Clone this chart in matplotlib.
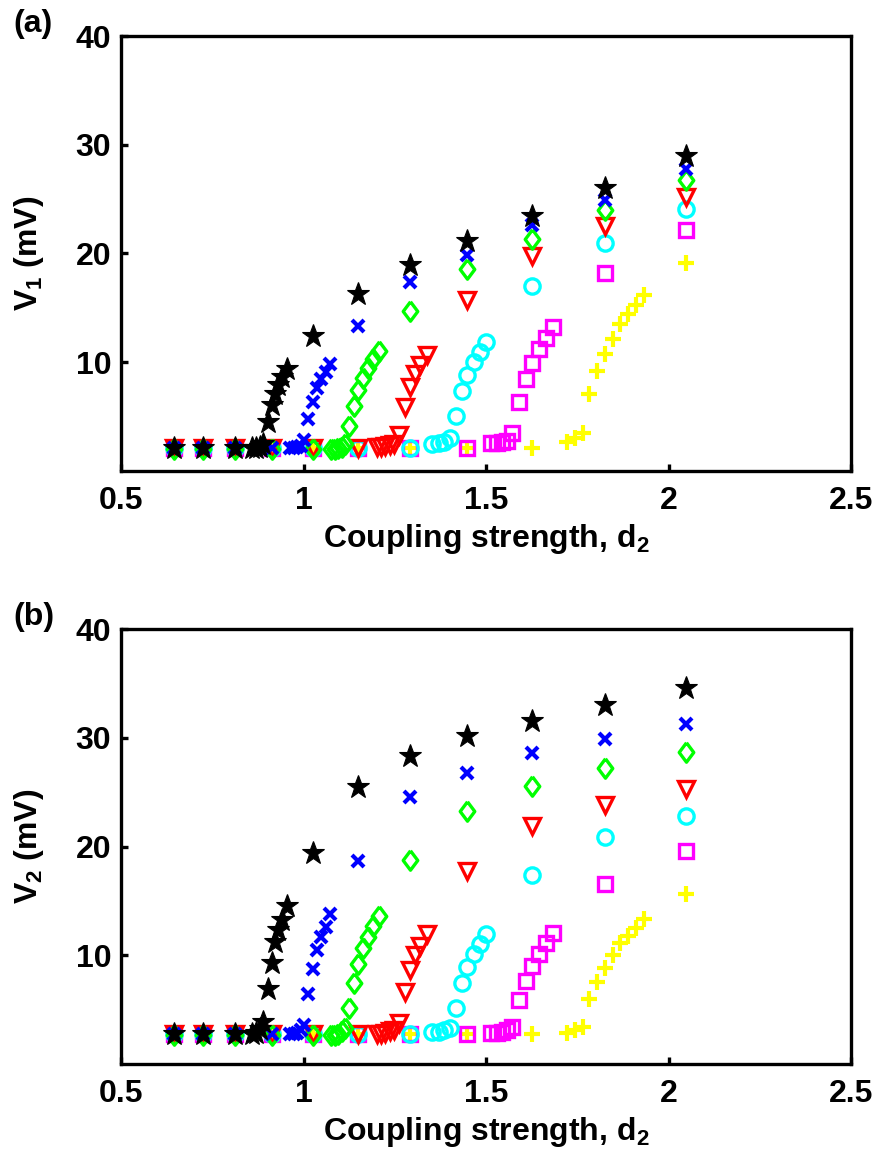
import matplotlib
matplotlib.use('Agg')
import matplotlib.pyplot as plt

# coupling strength d2 for each run, and the two voltages V1 / V2 (mV)
d2_star = [0.646, 0.725, 0.812, 0.860, 0.870, 0.880, 0.890, 0.902, 0.913, 0.922, 0.931, 0.942, 0.954,
	1.025, 1.150, 1.292, 1.449, 1.627, 1.826, 2.048]
v1_star = [2.1, 2.1, 2.1, 2.1, 2.1, 2.2, 2.5, 4.5, 6.05, 7.1, 7.9, 8.65, 9.35,
	12.4, 16.3, 18.9, 21.1, 23.4, 26.0, 29.0]
v2_star = [2.8, 2.8, 2.8, 2.8, 2.9, 3.2, 3.9, 6.9, 9.3, 11.25, 12.3, 13.25, 14.5,
	19.4, 25.5, 28.3, 30.2, 31.6, 33.0, 34.6]

d2_x = [0.646, 0.725, 0.812, 0.913, 0.963, 0.973, 0.983, 0.993, 1.001, 1.013, 1.025, 1.038, 1.048, 1.061, 1.073,
	1.150, 1.292, 1.449, 1.627, 1.826, 2.048]
v1_x = [2.1, 2.1, 2.1, 2.1, 2.1, 2.1, 2.2, 2.3, 2.8, 4.74, 6.36, 7.59, 8.42, 9.12, 9.83,
	13.3, 17.4, 19.9, 22.6, 24.9, 27.8]
v2_x = [2.8, 2.8, 2.8, 2.8, 2.8, 2.8, 2.9, 3.1, 3.6, 6.44, 8.71, 10.5, 11.66, 12.63, 13.8,
	18.7, 24.6, 26.8, 28.6, 29.9, 31.3]

d2_dia = [0.646, 0.725, 0.812, 0.913, 1.025, 1.075, 1.085, 1.095, 1.105, 1.115,
	1.125, 1.138, 1.150, 1.164, 1.178, 1.191, 1.208, 1.292, 1.449, 1.627, 1.826, 2.048]
v1_dia = [2.0, 2.0, 2.0, 2.0, 2.0, 2.0, 2.0, 2.1, 2.2, 2.5,
	4.15, 5.96, 7.43, 8.57, 9.43, 10.28, 11.0, 14.7, 18.6, 21.3, 24.0, 26.8]
v2_dia = [2.7, 2.7, 2.7, 2.7, 2.7, 2.7, 2.7, 2.8, 3.0, 3.3,
	5.12, 7.42, 9.2, 10.7, 11.7, 12.7, 13.6, 18.8, 23.3, 25.6, 27.2, 28.7]

d2_tri = [0.646, 0.725, 0.812, 0.913, 1.025, 1.150, 1.200, 1.212, 1.224, 1.236, 1.248,
	1.262, 1.278, 1.292, 1.305, 1.319, 1.337, 1.449, 1.627, 1.826, 2.048]
v1_tri = [2.1, 2.1, 2.1, 2.1, 2.1, 2.1, 2.2, 2.2, 2.3, 2.4, 2.5,
	3.29, 5.9, 7.74, 8.88, 9.73, 10.65, 15.7, 19.8, 22.5, 25.2]
v2_tri = [2.8, 2.8, 2.8, 2.8, 2.8, 2.8, 2.8, 2.8, 2.9, 3.0, 3.1,
	3.74, 6.65, 8.65, 10.0, 10.9, 12.0, 17.8, 21.9, 23.8, 25.3]

d2_circ = [0.646, 0.725, 0.812, 0.913, 1.025, 1.150, 1.292, 1.351, 1.370, 1.385, 1.401,
	1.417, 1.433, 1.449, 1.467, 1.484, 1.500, 1.627, 1.826, 2.048]
v1_circ = [2.1, 2.1, 2.1, 2.1, 2.1, 2.1, 2.1, 2.47, 2.53, 2.68, 2.99,
	5.07, 7.34, 8.81, 10.04, 10.96, 11.88, 17.0, 21.0, 24.1]
v2_circ = [2.8, 2.8, 2.8, 2.8, 2.8, 2.8, 2.8, 2.97, 2.97, 3.13, 3.28,
	5.18, 7.42, 8.95, 10.1, 11.04, 12.0, 17.4, 20.9, 22.8]

d2_sq = [0.646, 0.725, 0.812, 0.913, 1.025, 1.150, 1.292, 1.449, 1.514, 1.529, 1.543, 1.557, 1.572,
	1.590, 1.609, 1.627, 1.645, 1.664, 1.683, 1.826, 2.048]
v1_sq = [2.1, 2.1, 2.1, 2.1, 2.1, 2.1, 2.1, 2.1, 2.53, 2.53, 2.62, 2.77, 3.45,
	6.36, 8.45, 9.89, 11.2, 12.25, 13.26, 18.2, 22.2]
v2_sq = [2.8, 2.8, 2.8, 2.8, 2.8, 2.8, 2.8, 2.8, 2.82, 2.82, 2.97, 3.13, 3.43,
	5.89, 7.67, 9.05, 10.1, 11.16, 12.1, 16.6, 19.6]

d2_plus = [0.646, 0.725, 0.812, 0.913, 1.025, 1.150, 1.292, 1.449, 1.627, 1.721, 1.744, 1.765,
	1.783, 1.805, 1.826, 1.847, 1.867, 1.890, 1.911, 1.934, 2.048]
v1_plus = [2.1, 2.1, 2.1, 2.1, 2.1, 2.1, 2.1, 2.1, 2.1, 2.68, 2.99, 3.45,
	7.04, 9.21, 10.74, 12.1, 13.5, 14.4, 15.25, 16.2, 19.1]
v2_plus = [2.8, 2.8, 2.8, 2.8, 2.8, 2.8, 2.8, 2.8, 2.8, 2.88, 3.13, 3.37,
	5.95, 7.57, 8.86, 10.03, 11.1, 11.8, 12.5, 13.3, 15.6]

x_ticks = [0.5, 1, 1.5, 2, 2.5]
x_ticklabels = ['0.5', '1', '1.5', '2', '2.5']
y_ticks = [10, 20, 30, 40]

# diamond a bit wider than matplotlib's thin one
DIAMOND = [(0, 1), (0.75, 0), (0, -1), (-0.75, 0), (0, 1)]

# (d2, v1, v2, marker, colour, size, edge width, filled)
series = [
	(d2_plus, v1_plus, v2_plus, '+', (1, 1, 0), 11, 3.0, False),
	(d2_sq, v1_sq, v2_sq, 's', (1, 0, 1), 9.5, 2.4, False),
	(d2_circ, v1_circ, v2_circ, 'o', (0, 1, 1), 11, 2.4, False),
	(d2_tri, v1_tri, v2_tri, 'v', (1, 0, 0), 12, 2.4, False),
	(d2_dia, v1_dia, v2_dia, DIAMOND, (0, 1, 0), 14, 2.4, False),
	(d2_x, v1_x, v2_x, 'x', (0, 0, 1), 8, 3.0, False),
	(d2_star, v1_star, v2_star, '*', (0, 0, 0), 17, 0.8, True),
]

plt.rcParams['font.family'] = ['Liberation Sans', 'DejaVu Sans']
plt.rcParams['font.weight'] = 'bold'
plt.rcParams['mathtext.fontset'] = 'custom'
plt.rcParams['mathtext.rm'] = 'Liberation Sans:bold'
plt.rcParams['mathtext.it'] = 'Liberation Sans:bold'
plt.rcParams['mathtext.bf'] = 'Liberation Sans:bold'
plt.rcParams['mathtext.default'] = 'rm'

FS = 23


def style_axes(ax, ylabel):
	ax.set_xlim(0.5, 2.5)
	ax.set_ylim(0, 40)
	ax.set_xticks(x_ticks)
	ax.set_xticklabels(x_ticklabels)
	ax.set_yticks(y_ticks)
	ax.tick_params(direction='in', length=5, width=2.4, labelsize=FS,
		top=False, right=False)
	ax.tick_params(axis='x', pad=11)
	ax.tick_params(axis='y', pad=7)
	for s in ax.spines.values():
		s.set_linewidth(2.4)
	ax.set_xlabel('Coupling strength, d$_2$', fontsize=FS, fontweight='bold', labelpad=4)
	ax.set_ylabel(ylabel, fontsize=FS, fontweight='bold')
	ax.yaxis.set_label_coords(-0.103, 0.5)


def main():
	fig = plt.figure(figsize=(8.82, 11.63), dpi=100)
	ax1 = fig.add_axes([0.1372, 0.5952, 0.8277, 0.3738])
	ax2 = fig.add_axes([0.1372, 0.0851, 0.8277, 0.3738])

	for d2, v1, v2, mk, col, ms, mew, filled in series:
		face = col if filled else 'none'
		for ax, v in ((ax1, v1), (ax2, v2)):
			ax.plot(d2, v, linestyle='none', marker=mk, markersize=ms,
				markeredgecolor=col, markerfacecolor=face, markeredgewidth=mew)

	style_axes(ax1, 'V$_1$ (mV)')
	style_axes(ax2, 'V$_2$ (mV)')

	fig.text(0.0147, 0.9925, '(a)', fontsize=FS, fontweight='bold', va='top')
	fig.text(0.0147, 0.4825, '(b)', fontsize=FS, fontweight='bold', va='top')

	fig.savefig('out.png', dpi=100)


if __name__ == '__main__':
	main()
